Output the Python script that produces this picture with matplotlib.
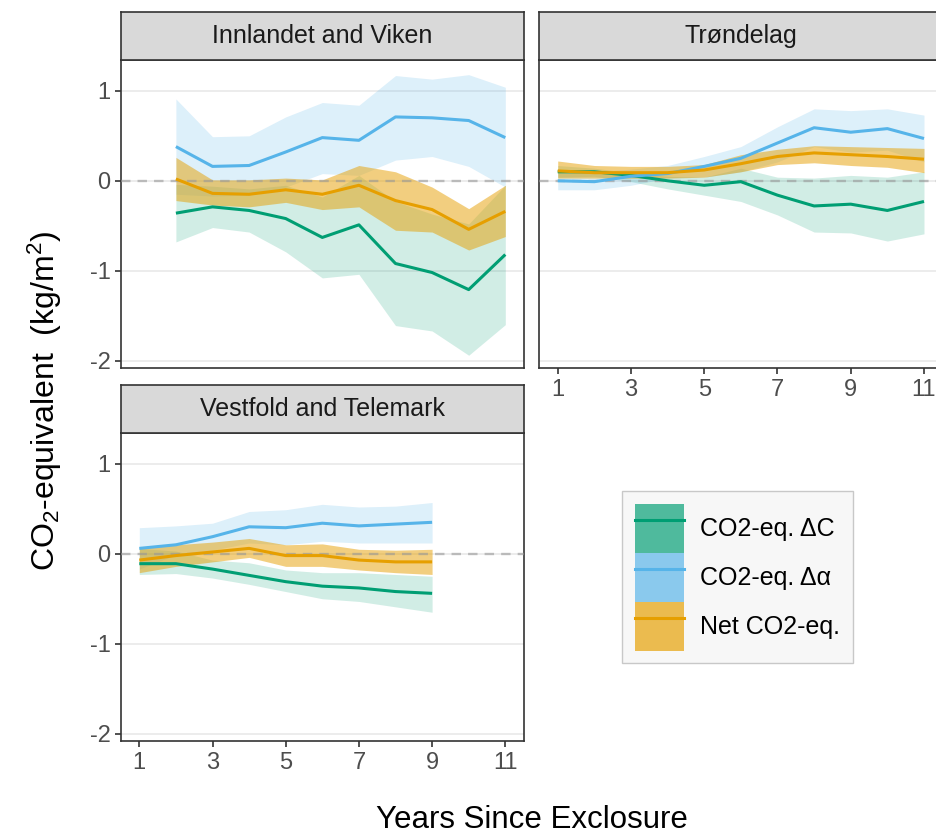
import numpy as np
import matplotlib
matplotlib.use('Agg')
import matplotlib.pyplot as plt
from matplotlib.patches import Patch
from matplotlib.lines import Line2D

plt.rcParams['font.family'] = ['Liberation Sans', 'DejaVu Sans']
plt.rcParams['mathtext.fontset'] = 'custom'
plt.rcParams['mathtext.rm'] = 'Liberation Sans'
plt.rcParams['mathtext.it'] = 'Liberation Sans'
plt.rcParams['axes.unicode_minus'] = False

W, H = 936, 834

# --- data ---
panels = ['Innlandet and Viken', 'Trøndelag', 'Vestfold and Telemark']
series = ['CO2-eq. ΔC', 'CO2-eq. Δα', 'Net CO2-eq.']
colors = ['#009E73', '#56B4E9', '#E69F00']
band_alpha = [0.18, 0.2, 0.5]

years_iv = [2, 3, 4, 5, 6, 7, 8, 9, 10, 11]
dC_iv = [-0.36, -0.29, -0.33, -0.42, -0.63, -0.49, -0.92, -1.02, -1.21, -0.82]
dC_iv_lo = [-0.68, -0.52, -0.57, -0.79, -1.08, -1.04, -1.61, -1.67, -1.94, -1.60]
dC_iv_hi = [-0.04, -0.06, -0.09, -0.05, -0.18, 0.06, -0.23, -0.37, -0.48, -0.05]
da_iv = [0.38, 0.16, 0.17, 0.32, 0.48, 0.45, 0.71, 0.70, 0.67, 0.48]
da_iv_lo = [-0.15, -0.17, -0.16, -0.07, 0.08, 0.06, 0.23, 0.27, 0.16, -0.07]
da_iv_hi = [0.91, 0.49, 0.50, 0.71, 0.87, 0.84, 1.17, 1.13, 1.18, 1.04]
net_iv = [0.02, -0.14, -0.15, -0.10, -0.15, -0.05, -0.22, -0.32, -0.54, -0.34]
net_iv_lo = [-0.22, -0.27, -0.29, -0.24, -0.32, -0.29, -0.55, -0.57, -0.77, -0.62]
net_iv_hi = [0.26, 0.01, 0.01, 0.03, 0.01, 0.17, 0.10, -0.07, -0.31, -0.05]

years_tr = [1, 2, 3, 4, 5, 6, 7, 8, 9, 10, 11]
dC_tr = [0.10, 0.10, 0.06, 0.00, -0.05, -0.01, -0.16, -0.28, -0.26, -0.33, -0.23]
dC_tr_lo = [0.04, 0.05, -0.01, -0.09, -0.16, -0.23, -0.38, -0.57, -0.58, -0.67, -0.59]
dC_tr_hi = [0.17, 0.14, 0.09, 0.05, 0.04, 0.14, 0.04, 0.03, 0.06, 0.04, 0.10]
da_tr = [0.00, -0.01, 0.05, 0.08, 0.16, 0.25, 0.42, 0.59, 0.54, 0.58, 0.47]
da_tr_lo = [-0.10, -0.10, -0.05, 0.03, 0.04, 0.10, 0.21, 0.38, 0.32, 0.34, 0.21]
da_tr_hi = [0.12, 0.10, 0.13, 0.17, 0.27, 0.38, 0.60, 0.80, 0.78, 0.80, 0.73]
net_tr = [0.11, 0.09, 0.09, 0.09, 0.12, 0.19, 0.27, 0.31, 0.29, 0.27, 0.24]
net_tr_lo = [0.03, 0.03, 0.03, 0.03, 0.04, 0.10, 0.18, 0.20, 0.17, 0.15, 0.09]
net_tr_hi = [0.22, 0.17, 0.16, 0.16, 0.18, 0.29, 0.35, 0.39, 0.38, 0.37, 0.36]

years_vt = [1, 2, 3, 4, 5, 6, 7, 8, 9]
dC_vt = [-0.11, -0.11, -0.17, -0.24, -0.31, -0.36, -0.38, -0.42, -0.44]
dC_vt_lo = [-0.23, -0.22, -0.27, -0.34, -0.42, -0.50, -0.53, -0.59, -0.65]
dC_vt_hi = [0.06, 0.03, -0.07, -0.10, -0.18, -0.21, -0.21, -0.23, -0.25]
da_vt = [0.06, 0.10, 0.19, 0.30, 0.29, 0.34, 0.31, 0.33, 0.35]
da_vt_lo = [-0.17, -0.01, 0.04, 0.12, 0.10, 0.14, 0.12, 0.12, 0.12]
da_vt_hi = [0.29, 0.31, 0.34, 0.47, 0.49, 0.55, 0.52, 0.53, 0.57]
net_vt = [-0.07, -0.02, 0.02, 0.06, -0.02, -0.02, -0.07, -0.09, -0.09]
net_vt_lo = [-0.21, -0.14, -0.09, -0.04, -0.14, -0.14, -0.18, -0.21, -0.23]
net_vt_hi = [0.07, 0.10, 0.13, 0.17, 0.10, 0.11, 0.05, 0.04, 0.05]

xticks = [1, 3, 5, 7, 9, 11]
yticks = [-2, -1, 0, 1]

panel_data = [
    (years_iv, [(dC_iv, dC_iv_lo, dC_iv_hi), (da_iv, da_iv_lo, da_iv_hi), (net_iv, net_iv_lo, net_iv_hi)]),
    (years_tr, [(dC_tr, dC_tr_lo, dC_tr_hi), (da_tr, da_tr_lo, da_tr_hi), (net_tr, net_tr_lo, net_tr_hi)]),
    (years_vt, [(dC_vt, dC_vt_lo, dC_vt_hi), (da_vt, da_vt_lo, da_vt_hi), (net_vt, net_vt_lo, net_vt_hi)]),
]

fig = plt.figure(figsize=(W / 100, H / 100), dpi=100)


def px_axes(l, t, r, b):
    return fig.add_axes([l / W, 1 - b / H, (r - l) / W, (b - t) / H])


# pixel boxes: (left, strip top, plot top, right, plot bottom)
boxes = [(121, 12, 60, 523.6, 368.3),
         (539.4, 12, 60, 942.3, 368.3),
         (121, 385, 433, 523.6, 741.3)]
show_y = [True, False, True]
show_x = [False, True, True]

for k, (l, st, t, r, b) in enumerate(boxes):
    ax = px_axes(l, t, r, b)
    yrs, sers = panel_data[k]
    for (m, lo, hi), c, a in zip(sers, colors, band_alpha):
        ax.fill_between(yrs, lo, hi, color=c, alpha=a, lw=0, zorder=2)
    ax.axhline(0, color='#999999', ls=(0, (4, 3)), lw=1.7, alpha=0.6, zorder=3)
    for (m, lo, hi), c in zip(sers, colors):
        ax.plot(yrs, m, color=c, lw=2.2, zorder=4, solid_capstyle='butt')
    ax.set_xlim(0.5, 11.5)
    ax.set_ylim(-2.085, 1.343)
    ax.set_xticks(xticks)
    ax.set_yticks(yticks)
    ax.grid(axis='y', color='#ebebeb', lw=1.3, zorder=0)
    ax.set_axisbelow(True)
    for s in ax.spines.values():
        s.set_color('#333333')
        s.set_linewidth(1.2)
    ax.tick_params(colors='#333333', width=1.2, length=4.5, labelcolor='#4d4d4d',
                   labelsize=17, pad=3)
    if not show_y[k]:
        ax.tick_params(axis='y', left=False, labelleft=False)
    if not show_x[k]:
        ax.tick_params(axis='x', bottom=False, labelbottom=False)

    sax = px_axes(l, st, r, t)
    sax.set_facecolor('#d9d9d9')
    sax.set_xticks([])
    sax.set_yticks([])
    for s in sax.spines.values():
        s.set_color('#333333')
        s.set_linewidth(1.2)
    sax.text(0.5, 0.5, panels[k], ha='center', va='center', fontsize=18,
             color='#1a1a1a', transform=sax.transAxes)

fig.text(45 / W, 1 - 401 / H, 'CO$_2$-equivalent  (kg/m$^2$)', rotation=90,
         ha='center', va='center', fontsize=23)
fig.text(532 / W, 1 - 820 / H, 'Years Since Exclosure', ha='center', va='center',
         fontsize=22.5)

handles = [(Patch(facecolor=c, alpha=0.68, lw=0), Line2D([], [], color=c, lw=2.2))
           for c in colors]
leg = fig.legend(handles, series, loc='upper left',
                 bbox_to_anchor=(622 / W, 1 - 491 / H), fontsize=18,
                 handlelength=1.96, handleheight=2.64, labelspacing=0,
                 handletextpad=0.68, borderpad=0.5, borderaxespad=0,
                 frameon=True, fancybox=False, edgecolor='#c8c8c8',
                 facecolor='#f7f7f7', framealpha=1)
leg.get_frame().set_linewidth(1.0)

fig.savefig('out.png', dpi=100)
